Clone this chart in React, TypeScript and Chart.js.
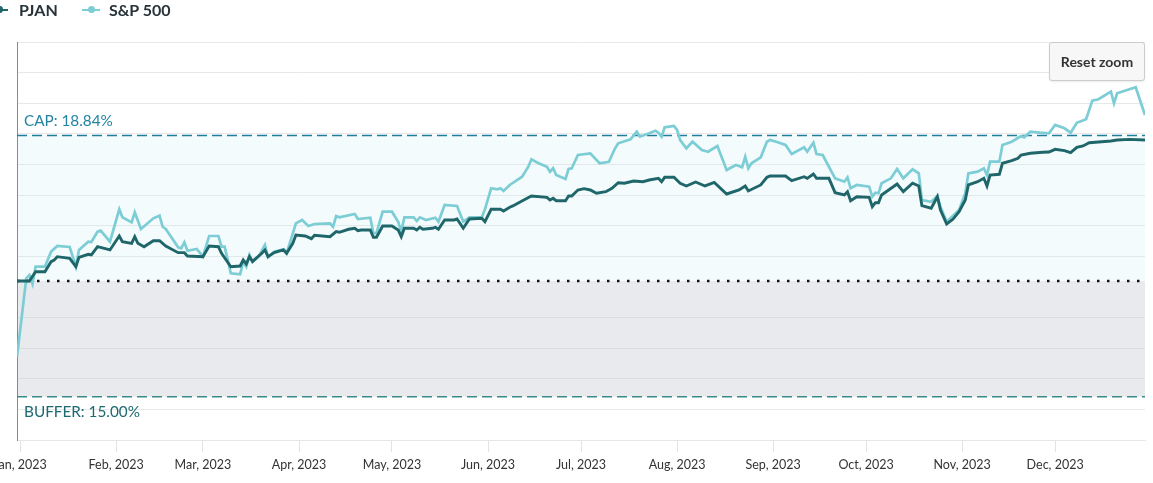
import React, { useEffect, useRef } from "react";
import { Chart, registerables } from "chart.js";

Chart.register(...registerables);

// ---------- data (x = days after 1 Jan 2023, y = cumulative return in %) ----------
const monthTickDays = [0, 31, 59, 90, 120, 151, 181, 212, 243, 273, 304, 334];
const monthTickLabels = [
  "Jan, 2023", "Feb, 2023", "Mar, 2023", "Apr, 2023", "May, 2023", "Jun, 2023",
  "Jul, 2023", "Aug, 2023", "Sep, 2023", "Oct, 2023", "Nov, 2023", "Dec, 2023",
];

const pjanDays = [
  -1, 3, 5, 8, 10, 11, 12, 16, 18, 19, 22, 23, 25, 29, 32, 33, 36, 37, 38, 40, 43, 45, 47, 51, 53, 54,
  59, 61, 64, 65, 68, 71, 72, 73, 74, 75, 78, 79, 80, 82, 85, 86, 88, 89, 92, 94, 95, 100, 102, 103,
  106, 108, 109, 110, 113, 114, 115, 117, 120, 122, 123, 124, 127, 128, 129, 130, 133, 134, 135, 137,
  140, 141, 143, 145, 149, 150, 152, 155, 156, 158, 159, 163, 165, 170, 171, 172, 173, 176, 177, 178,
  180, 182, 184, 186, 189, 191, 193, 195, 198, 201, 203, 206, 207, 208, 211, 213, 215, 218, 221, 224,
  228, 232, 234, 235, 239, 241, 242, 247, 249, 253, 254, 256, 257, 261, 263, 266, 267, 268, 270, 274,
  275, 276, 277, 278, 283, 285, 288, 290, 291, 294, 296, 297, 299, 301, 303, 305, 306, 309, 311, 312,
  313, 316, 317, 320, 322, 323, 326, 330, 332, 334, 337, 339, 341, 343, 345, 349, 352, 354, 358, 363,
];
const pjanValues = [
  0, 0, 1.2, 1.2, 2.5, 2.72, 3.15, 2.94, 1.85, 3.07, 3.46, 3.37, 4.44, 4.02, 5.83, 5.09, 4.88, 5.74, 4.88, 4.44, 5.22, 5.22, 4.53, 3.67, 3.67, 3.24,
  3.15, 4.53, 4.44, 3.59, 1.85, 1.94, 2.72, 2.2, 3.15, 2.53, 3.59, 4.02, 3.15, 3.67, 4.02, 3.59, 4.88, 5.96, 5.83, 5.48, 5.92, 5.74, 6.39, 6.31,
  6.7, 6.83, 6.52, 6.61, 6.61, 5.66, 5.66, 7.12, 7.12, 6.61, 5.74, 6.83, 6.83, 6.61, 6.96, 6.7, 6.83, 6.96, 6.7, 7.9,
  7.9, 8.03, 6.83, 8.03, 8.12, 7.68, 9.29, 9.29, 9.07, 9.55, 9.72, 10.58, 11.01, 10.84, 10.49, 10.71, 10.4, 10.4, 11.01, 11.01,
  11.79, 11.96, 11.79, 11.36, 11.57, 12.01, 12.73, 12.66, 12.95, 12.86, 13.08, 13.3, 12.86, 13.43, 13.43, 12.66, 12.31, 12.82, 12.31, 12.78,
  11.27, 11.79, 12.31, 11.66, 12.44, 13.43, 13.6, 13.6, 12.99, 13.51, 13.3, 13.86, 13.3, 13.3, 11.44, 11.14, 11.57, 10.4, 10.92, 10.84,
  9.62, 10.14, 10.14, 11.14, 12.56, 11.57, 12.66, 12.31, 9.75, 9.42, 10.92, 9.2, 7.38, 7.99, 8.98, 10.49, 12.44, 12.86, 13.3, 12.31,
  13.73, 13.82, 15.25, 15.58, 15.89, 16.32, 16.54, 16.67, 16.71, 17.06, 16.88, 16.62, 17.32, 17.49, 17.91, 18.04, 18.13, 18.26, 18.35, 18.26,
];

const spxDays = [
  -1, 2, 3, 4, 5, 8, 10, 12, 16, 18, 19, 22, 23, 25, 26, 29, 32, 33, 36, 37, 39, 43, 45, 46, 47, 51, 52, 53, 54,
  57, 59, 61, 64, 65, 66, 68, 71, 72, 73, 74, 75, 77, 79, 80, 82, 85, 86, 87, 89, 91, 93, 95, 100, 101, 102, 103,
  108, 109, 113, 114, 115, 117, 120, 122, 123, 124, 127, 128, 129, 131, 134, 135, 137, 141, 143, 145, 149, 150,
  152, 154, 155, 156, 158, 162, 164, 165, 167, 170, 171, 172, 173, 176, 177, 178, 180, 184, 187, 190, 192, 193,
  197, 199, 200, 203, 205, 206, 207, 208, 211, 212, 213, 215, 217, 220, 222, 225, 228, 231, 233, 234, 235, 236,
  239, 241, 242, 244, 247, 249, 253, 254, 256, 257, 259, 263, 266, 267, 268, 270, 274, 275, 276, 277, 278, 281,
  283, 285, 288, 290, 291, 294, 296, 297, 299, 303, 305, 306, 309, 311, 312, 313, 316, 317, 320, 323, 324, 326,
  329, 332, 334, 337, 339, 341, 344, 346, 348, 352, 353, 354, 360, 363,
];
const spxValues = [
  -9.8, 0.35, 0.78, -0.39, 1.85, 1.85, 3.8, 4.53, 4.4, 1.85, 4.02, 5.09, 5.05, 6.39, 6.52, 5.09, 9.29, 8.25, 7.6, 8.9, 6.74, 8.12, 8.46, 7.03, 6.74, 4.37, 4.24, 5.01, 3.92,
  4.15, 3.15, 5.83, 5.83, 4.44, 4.44, 1.0, 0.87, 2.5, 1.85, 3.37, 2.5, 3.2, 4.66, 3.07, 3.8, 4.1, 3.6, 4.88, 7.47, 7.9, 7.12, 7.38, 7.47, 7.03, 8.42, 8.25,
  8.68, 8.03, 8.2, 6.2, 6.2, 8.98, 8.98, 7.68, 6.39, 8.25, 8.25, 7.77, 8.25, 7.9, 8.2, 7.68, 9.84, 9.72, 7.68, 8.25, 8.25, 9.29,
  12.01, 11.88, 12.01, 11.66, 12.44, 13.51, 14.8, 15.76, 15.32, 14.8, 14.16, 14.6, 13.73, 13.21, 14.51, 14.6, 16.32, 16.54, 15.25, 15.45, 17.19, 17.84,
  18.35, 19.34, 18.69, 19.13, 19.47, 19.21, 18.69, 19.91, 20.08, 19.56, 18.26, 17.19, 18.04, 16.97, 16.75, 17.49, 14.38, 15.03, 14.73, 16.1, 14.6, 15.25,
  16.02, 18.04, 18.26, 18.04, 17.62, 16.45, 17.32, 16.75, 17.91, 16.45, 16.32, 13.3, 12.86, 13.43, 12.01, 12.44, 12.22, 10.92, 11.44, 11.36, 12.66, 13.3,
  14.51, 13.3, 14.47, 13.95, 10.49, 10.27, 11.01, 9.62, 7.68, 9.2, 11.36, 13.95, 14.16, 14.6, 13.73, 15.45, 15.45, 17.62, 18.04, 18.78, 18.61, 19.34,
  19.21, 19.13, 20.21, 19.78, 19.21, 20.5, 20.95, 23.36, 23.54, 24.52, 23.02, 24.31, 25.09, 21.5,
];

const capValue = 18.84;
const bufferValue = -15;
const yMin = -20.6;
const yMax = 30.96;
const yGridValues = [-20.6, -16.63, -12.67, -8.7, -4.74, 3.2, 7.16, 11.13, 15.09, 19.06, 23.03, 26.99, 30.96];
const xMin = -1;
const xMax = 363;

// ---------- styles ----------
const PJAN_COLOR = "#1f666b";
const SPX_COLOR = "#7ccdd5";
const FONT = "Lato, 'Noto Sans', sans-serif";

const bandsPlugin = {
  id: "capBufferBands",
  beforeDatasetsDraw(chart: any) {
    const { ctx, chartArea: a, scales } = chart;
    const y = scales.y;
    const yCap = y.getPixelForValue(capValue);
    const yZero = y.getPixelForValue(0);
    const yBuf = y.getPixelForValue(bufferValue);
    ctx.save();
    ctx.fillStyle = "rgba(200,235,240,0.2)";
    ctx.fillRect(a.left + 1, yCap, a.right - a.left - 1, yZero - yCap);
    ctx.fillStyle = "rgba(200,203,210,0.4)";
    ctx.fillRect(a.left + 1, yZero, a.right - a.left - 1, yBuf - yZero);

    const hline = (py: number) => {
      ctx.beginPath();
      ctx.moveTo(a.left, py);
      ctx.lineTo(a.right, py);
      ctx.stroke();
    };
    ctx.lineWidth = 1.5;
    ctx.setLineDash([10, 5]);
    ctx.strokeStyle = "#1f7c9a";
    hline(yCap);
    ctx.strokeStyle = "#3a8c8c";
    hline(yBuf);

    ctx.lineWidth = 2.5;
    ctx.setLineDash([2.5, 7.5]);
    ctx.strokeStyle = "#111111";
    hline(yZero);
    ctx.setLineDash([]);

    ctx.font = `15.3px ${FONT}`;
    ctx.textBaseline = "middle";
    ctx.textAlign = "left";
    ctx.fillStyle = "#2284a1";
    ctx.fillText(`CAP: ${capValue.toFixed(2)}%`, a.left + 7, yCap - 14);
    ctx.fillStyle = "#1c6970";
    ctx.fillText(`BUFFER: ${Math.abs(bufferValue).toFixed(2)}%`, a.left + 7, yBuf + 15);
    ctx.restore();
  },
};

const CANVAS_SHIFT = 23;
const CANVAS_W = 1153 + CANVAS_SHIFT;
const CANVAS_H = 483;

export default function App() {
  const canvasRef = useRef<HTMLCanvasElement | null>(null);

  useEffect(() => {
    if (!canvasRef.current) return;
    Chart.defaults.font.family = FONT;
    const chart = new Chart(canvasRef.current, {
      type: "line",
      data: {
        datasets: [
          {
            label: "PJAN",
            data: pjanDays.map((d, i) => ({ x: d, y: pjanValues[i] })),
            borderColor: PJAN_COLOR,
            backgroundColor: PJAN_COLOR,
            borderWidth: 2.9,
            pointRadius: 0,
            tension: 0,
            order: 1,
          },
          {
            label: "S&P 500",
            data: spxDays.map((d, i) => ({ x: d, y: spxValues[i] })),
            borderColor: SPX_COLOR,
            backgroundColor: SPX_COLOR,
            borderWidth: 2.7,
            pointRadius: 0,
            tension: 0,
            order: 2,
          },
        ],
      },
      options: {
        animation: false,
        responsive: false,
        devicePixelRatio: 1,
        layout: { padding: { left: 40, right: 8, top: 42, bottom: 0 } },
        plugins: { legend: { display: false }, tooltip: { enabled: false } },
        scales: {
          x: {
            type: "linear",
            min: xMin,
            max: xMax,
            afterBuildTicks: (s: any) => {
              s.ticks = monthTickDays.map((v) => ({ value: v }));
            },
            afterFit: (s: any) => {
              s.height = 43;
            },
            ticks: {
              autoSkip: false,
              maxRotation: 0,
              color: "#333333",
              font: { size: 12.5 },
              padding: 5,
              callback: (_v: any, i: number) => monthTickLabels[i],
            },
            grid: { drawOnChartArea: false, drawTicks: true, tickLength: 12, color: "#e3e3e3" },
            border: { display: true, color: "#e6e6e6" },
          },
          y: {
            min: yMin,
            max: yMax,
            afterBuildTicks: (s: any) => {
              s.ticks = yGridValues.map((v) => ({ value: v }));
            },
            afterFit: (s: any) => {
              s.width = 0;
            },
            ticks: { display: false },
            grid: { drawTicks: false, color: "#e8e8e8", lineWidth: 1 },
            border: { display: true, color: "#8a8a8a", width: 1 },
          },
        },
      },
      plugins: [bandsPlugin],
    } as any);
    return () => chart.destroy();
  }, []);

  const legendText: React.CSSProperties = {
    position: "absolute",
    top: 0,
    font: `bold 16px ${FONT}`,
    lineHeight: "19px",
    color: "#27323a",
    whiteSpace: "nowrap",
  };
  const markerLine = (left: number, width: number, color: string): React.CSSProperties => ({
    position: "absolute",
    left,
    top: 8.5,
    width,
    height: 2.5,
    background: color,
  });
  const markerDot = (cx: number, color: string): React.CSSProperties => ({
    position: "absolute",
    left: cx - 3.5,
    top: 6.25,
    width: 7,
    height: 7,
    borderRadius: "50%",
    background: color,
  });

  return (
    <div
      style={{
        position: "absolute",
        left: 0,
        top: 0,
        width: 1153,
        height: 483,
        overflow: "hidden",
        background: "#ffffff",
      }}
    >
      <canvas
        ref={canvasRef}
        width={CANVAS_W}
        height={CANVAS_H}
        style={{ position: "absolute", left: -CANVAS_SHIFT, top: 0, width: CANVAS_W, height: CANVAS_H }}
      />
      <div style={markerLine(-10, 18, PJAN_COLOR)} />
      <div style={markerDot(-0.6, PJAN_COLOR)} />
      <span style={{ ...legendText, left: 19 }}>PJAN</span>
      <div style={markerLine(82, 18, SPX_COLOR)} />
      <div style={markerDot(91, SPX_COLOR)} />
      <span style={{ ...legendText, left: 109 }}>S&amp;P 500</span>
      <button
        style={{
          position: "absolute",
          left: 1049,
          top: 42,
          width: 96,
          height: 39,
          background: "#f7f7f7",
          border: "1px solid #cccccc",
          borderRadius: 3,
          boxShadow: "0 1px 2px rgba(0,0,0,0.08)",
          font: `bold 14px ${FONT}`,
          color: "#333333",
          padding: 0,
          cursor: "pointer",
        }}
      >
        Reset zoom
      </button>
    </div>
  );
}
